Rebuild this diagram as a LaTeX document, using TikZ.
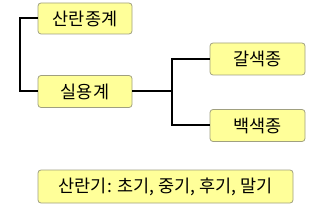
\documentclass[tikz,border=0pt]{standalone}
\usepackage{fontspec}
\newfontfamily\kr{Noto Sans CJK KR}
\begin{document}
\begin{tikzpicture}[x=1pt,y=-1pt,
  box/.style={draw=boxborder, fill=boxfill, rounded corners=3pt, line width=0.8pt, inner sep=0pt, font=\kr\fontsize{17.5}{20}\selectfont},
  conn/.style={line width=2pt, black}]
\definecolor{boxfill}{HTML}{FFFF99}
\definecolor{boxborder}{HTML}{A0A080}
\useasboundingbox (0,0) rectangle (321,211);
\node[box, minimum width=94pt, minimum height=31pt] (a) at (85,18.5) {산란종계};
\node[box, minimum width=94pt, minimum height=32pt] (b) at (85,91.5) {실용계};
\node[box, minimum width=95pt, minimum height=32pt] (c) at (257.5,59) {갈색종};
\node[box, minimum width=95pt, minimum height=32pt] (d) at (257.5,125.5) {백색종};
\node[box, minimum width=255pt, minimum height=33pt] (e) at (165.5,186.5) {산란기: 초기, 중기, 후기, 말기};
\draw[conn] (a.west) -- ++(-18,0) |- (b.west);
\coordinate (j) at (172,91.5);
\draw[conn] (b.east) -- (j);
\draw[conn] (c.west) -- ++(-38,0) |- (d.west);
\end{tikzpicture}
\end{document}
